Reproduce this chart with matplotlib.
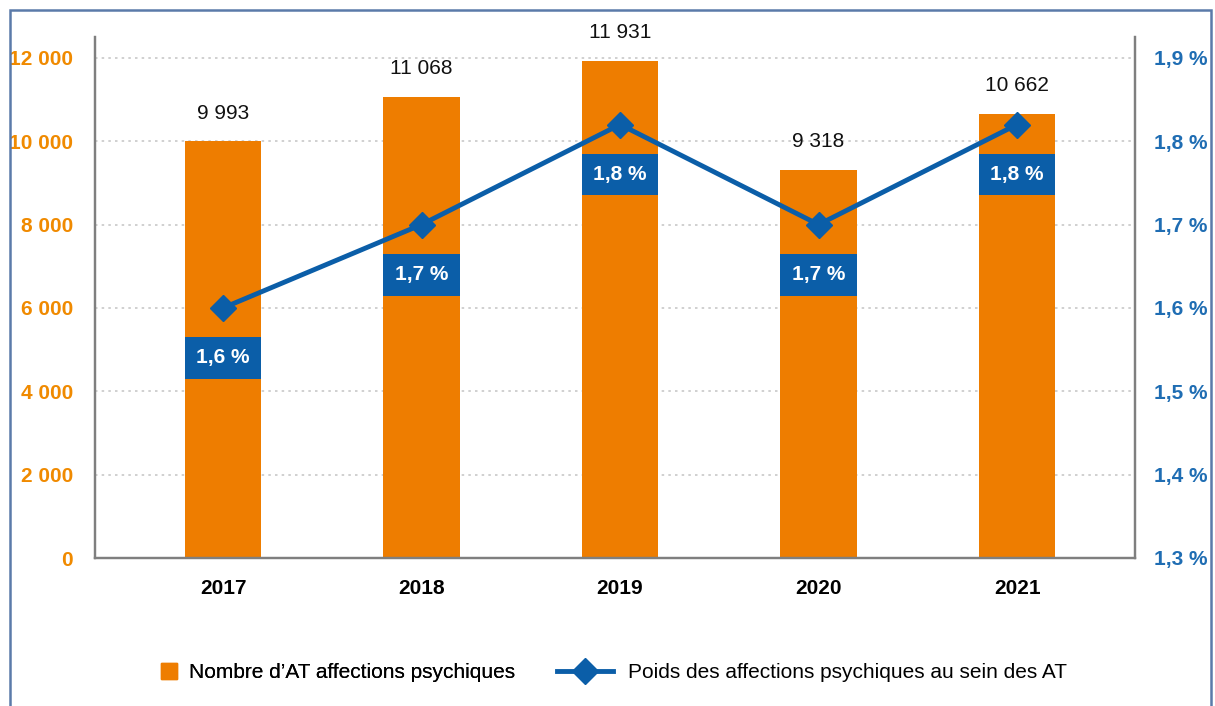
import matplotlib.pyplot as plt
from matplotlib.lines import Line2D
from matplotlib.patches import Rectangle

plt.rcParams['font.family'] = ['Liberation Sans', 'DejaVu Sans']

years = ['2017', '2018', '2019', '2020', '2021']
nb_at = [9993, 11068, 11931, 9318, 10662]
poids = [1.60, 1.70, 1.82, 1.70, 1.82]
left_ticks = [0, 2000, 4000, 6000, 8000, 10000, 12000]
right_ticks = [1.3, 1.4, 1.5, 1.6, 1.7, 1.8, 1.9]

ORANGE = '#ee7d00'
BLUE = '#0b5ea8'
TICK_BLUE = '#1f6db3'
GREY = '#7f7f7f'
FS = 15


def fmt_thousands(v):
    return f"{v:,}".replace(',', ' ')


def fmt_pct(v):
    return f"{v:.1f} %".replace('.', ',')


fig = plt.figure(figsize=(12.15, 7.06), dpi=100)
ax = fig.add_axes([95 / 1215, 1 - 558 / 706, (1135 - 95) / 1215, (558 - 37) / 706])
ax2 = ax.twinx()

x = list(range(len(years)))
ax.bar(x, nb_at, width=0.385, color=ORANGE, zorder=2)
ax.set_ylim(0, 12500)
ax.set_xlim(-0.645, 4.594)
ax.set_yticks(left_ticks)
ax.set_yticklabels([fmt_thousands(v) for v in left_ticks], color='#f08a00',
                   fontsize=FS, fontweight='bold')
ax.set_xticks(x)
ax.set_xticklabels(years, fontsize=FS, fontweight='bold')
ax.tick_params(axis='y', length=0, pad=16)
ax.tick_params(axis='x', length=0, pad=15)
for v in left_ticks[1:]:
    ax.axhline(v, color='#c8c8c8', lw=1.2, ls=(0, (1.5, 2.5)), zorder=1)

for xi, v in zip(x, nb_at):
    ax.annotate(fmt_thousands(v), (xi, v), xytext=(0, 20), textcoords='offset points',
                ha='center', va='center', fontsize=FS, color='#111111')

ax2.plot(x, poids, color=BLUE, lw=3.5, marker='D', markersize=13, zorder=4)
ax2.set_ylim(1.3, 1.925)
ax2.set_yticks(right_ticks)
ax2.set_yticklabels([fmt_pct(v) for v in right_ticks], color=TICK_BLUE,
                    fontsize=FS, fontweight='bold')
ax2.tick_params(axis='y', length=0, pad=14)

for xi, v in zip(x, poids):
    ax2.annotate(fmt_pct(v), (xi, v), xytext=(0, -36),
                 textcoords='offset points', ha='center', va='center', fontsize=FS,
                 fontweight='bold', color='white', zorder=5,
                 bbox=dict(boxstyle='square,pad=0.55', fc=BLUE, ec='none'))

for a in (ax, ax2):
    a.spines['top'].set_visible(False)
    for s in ('left', 'right', 'bottom'):
        a.spines[s].set_color(GREY)
        a.spines[s].set_linewidth(1.6)
ax.set_zorder(ax2.get_zorder() - 1)
ax2.patch.set_visible(False)

# legende en deux morceaux (poignees de tailles differentes)
h_bar = Line2D([0], [0], ls='none', marker='s', markersize=12, color=ORANGE,
               label="Nombre d\u2019AT affections psychiques")
h_line = Line2D([0], [0], color=BLUE, lw=3.5, marker='D', markersize=13,
                label='Poids des affections psychiques au sein des AT')
leg1 = fig.legend(handles=[h_bar], loc='center left', bbox_to_anchor=(160 / 1215, 0.047),
                  frameon=False, fontsize=FS, handlelength=0.9, handletextpad=0.5,
                  borderpad=0, borderaxespad=0)
fig.add_artist(leg1)
fig.legend(handles=[h_line], loc='center left', bbox_to_anchor=(557 / 1215, 0.047),
           frameon=False, fontsize=FS, handlelength=2.7, handletextpad=0.7,
           borderpad=0, borderaxespad=0)

fig.patches.append(Rectangle((10 / 1215, -0.05), 1201 / 1215, 1.05 - 10 / 706,
                             transform=fig.transFigure, fill=False,
                             ec='#5b7aa9', lw=1.8))

fig.savefig('out.png', dpi=100)
